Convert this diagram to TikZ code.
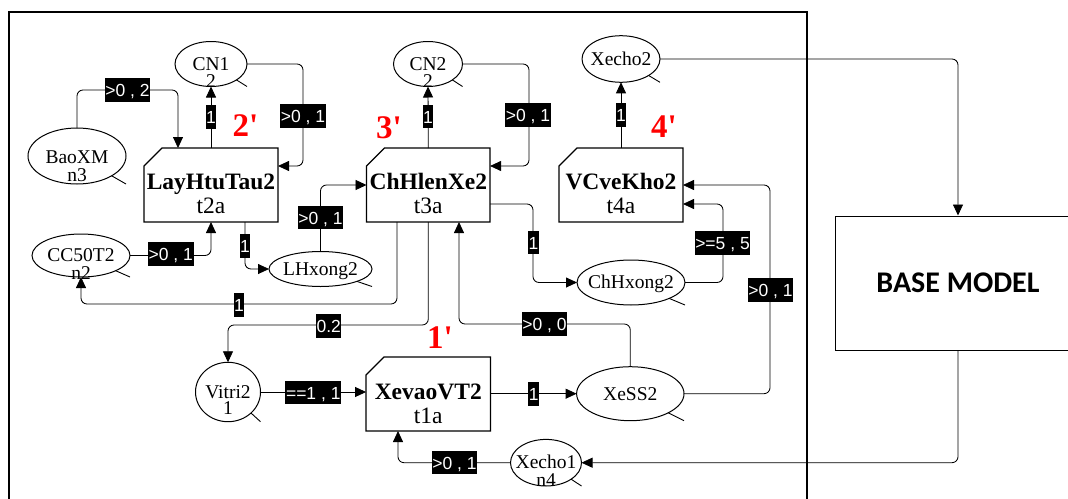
\documentclass[tikz,border=0pt]{standalone}
\usepackage{fontspec}
\setmainfont{Liberation Serif}
\newfontfamily\lbfam{Liberation Sans}
\newfontfamily\bmfam{Carlito}
\newfontfamily\rdfam{Liberation Serif}[Ligatures=TeXOff]
\usetikzlibrary{shapes.geometric,arrows.meta,calc}
\newcommand\plfont{\fontsize{19.5pt}{22pt}\selectfont}
\newcommand\trfont{\fontsize{23.5pt}{26pt}\selectfont\bfseries}
\newcommand\idfont{\fontsize{23.5pt}{26pt}\selectfont}
\newcommand\lbfont{\lbfam\fontsize{17.5pt}{20pt}\selectfont}
\newcommand\rdfont{\rdfam\fontsize{33pt}{36pt}\selectfont\bfseries}
\newcommand\bmfont{\bmfam\fontsize{30pt}{34pt}\selectfont\bfseries}
\newcommand\chamf[1]{\draw[line width=1.3pt] ([yshift=-18pt]#1.north west) -- ([xshift=18pt]#1.north west) -- (#1.north east) -- (#1.south east) -- (#1.south west) -- cycle;}
\newcommand\ptick[1]{\draw[line width=0.9pt] (#1.south -| #1.east) -- ($(#1.center)!0.7071!(#1.south -| #1.east)$);}
\tikzset{
  place/.style={ellipse, draw, line width=1pt, inner sep=0pt, outer sep=0pt},
  trans/.style={rectangle, draw=none, inner sep=0pt, outer sep=0pt, minimum height=74pt},
  ptxt/.style={font=\plfont, inner sep=0pt, anchor=base},
  tname/.style={font=\trfont, inner sep=0pt, anchor=base},
  tid/.style={font=\idfont, inner sep=0pt, anchor=base},
  conn/.style={line width=0.85pt, rounded corners=6pt, -{Triangle[length=11pt,width=10pt]}},
  lbl/.style={fill=black, text=white, font=\lbfont, inner xsep=0.6pt, inner ysep=0pt, text height=18.5pt, text depth=5pt},
  redlbl/.style={text=red, font=\rdfont, inner sep=0pt, anchor=base},
}
\begin{document}
\begin{tikzpicture}[x=1pt,y=-1pt]
\clip (0,0) rectangle (1068,498);
\fill[white] (0,0) rectangle (1068,498);
\draw[line width=1.3pt] (9,12) rectangle (807,510);

% transitions
\node[trans, minimum width=134pt] (t2) at (211,185) {};
\node[trans, minimum width=123.5pt] (t3) at (428.3,185) {};
\node[trans, minimum width=124pt] (t4) at (621,185) {};
\node[trans, minimum width=124.5pt] (t1) at (428.3,394) {};
\chamf{t2}\chamf{t3}\chamf{t4}\chamf{t1}
\node[tname] (t2n) at ([yshift=-41pt]t2.north) {LayHtuTau2};
\node[tid] (t2i) at ([yshift=-65.5pt]t2.north) {t2a};
\node[tname] (t3n) at ([yshift=-41pt]t3.north) {ChHlenXe2};
\node[tid] (t3i) at ([yshift=-65.5pt]t3.north) {t3a};
\node[tname] (t4n) at ([yshift=-41pt]t4.north) {VCveKho2};
\node[tid] (t4i) at ([yshift=-65.5pt]t4.north) {t4a};
\node[tname] (t1n) at ([yshift=-42pt]t1.north) {XevaoVT2};
\node[tid] (t1i) at ([yshift=-66pt]t1.north) {t1a};

% places
\node[place, minimum width=72pt, minimum height=45pt] (cn1) at (211,64) {};
\node[place, minimum width=69pt, minimum height=45pt] (cn2) at (428,64) {};
\node[place, minimum width=78pt, minimum height=46.6pt] (xe2) at (621,59) {};
\node[place, minimum width=98pt, minimum height=56pt] (baoxm) at (77,156) {};
\node[place, minimum width=98pt, minimum height=43pt] (cc50) at (81,255.5) {};
\node[place, minimum width=103pt, minimum height=35pt] (lhx) at (320.5,269) {};
\node[place, minimum width=108pt, minimum height=45pt] (chx) at (631,282.5) {};
\node[place, minimum width=107.4pt, minimum height=54pt] (xess) at (630.3,393.7) {};
\node[place, minimum width=65pt, minimum height=59.4pt] (vitri) at (228,392) {};
\node[place, minimum width=71pt, minimum height=46.6pt] (xe1) at (546,462.7) {};
\ptick{cn1}\ptick{cn2}\ptick{xe2}\ptick{baoxm}\ptick{cc50}\ptick{lhx}\ptick{chx}\ptick{xess}\ptick{vitri}\ptick{xe1}

\node[ptxt] (cn1a) at ([yshift=-6.5pt]cn1.center) {CN1};
\node[ptxt] (cn1b) at ([yshift=-23pt]cn1.center) {2};
\node[ptxt] (cn2a) at ([yshift=-6.5pt]cn2.center) {CN2};
\node[ptxt] (cn2b) at ([yshift=-23pt]cn2.center) {2};
\node[ptxt] (xe2a) at ([yshift=-6.5pt]xe2.center) {Xecho2};
\node[ptxt] (baoa) at ([yshift=-7pt]baoxm.center) {BaoXM};
\node[ptxt] (baob) at ([yshift=-25.5pt]baoxm.center) {n3};
\node[ptxt] (cc5a) at ([yshift=-5.5pt]cc50.center) {CC50T2};
\node[ptxt] (cc5b) at ([yshift=-23.5pt]cc50.center) {n2};
\node[ptxt] (lhxa) at ([yshift=-6.5pt]lhx.center) {LHxong2};
\node[ptxt] (chxa) at ([yshift=-5.5pt]chx.center) {ChHxong2};
\node[ptxt] (xssa) at ([yshift=-6.3pt]xess.center) {XeSS2};
\node[ptxt] (vita) at ([yshift=-6.3pt]vitri.center) {Vitri2};
\node[ptxt] (vitb) at ([yshift=-22pt]vitri.center) {1};
\node[ptxt] (xe1a) at ([yshift=-5.6pt]xe1.center) {Xecho1};
\node[ptxt] (xe1b) at ([yshift=-23.3pt]xe1.center) {n4};

% base model
\node[draw, line width=1pt, minimum width=246pt, minimum height=134pt, inner sep=0pt, font=\bmfont] (base) at (958,283) {BASE MODEL};

% red labels
\node[redlbl] (r2) at (245.5,136.5) {2'};
\node[redlbl] (r3) at (389,138) {3'};
\node[redlbl] (r4) at (664,137.5) {4'};
\node[redlbl] (r1) at (440,348) {1'};

% connectors
\coordinate (b1) at (178,90);
\draw[conn] (baoxm.north) |- (b1) -- (t2.north -| b1);
\draw[conn] (t2.north) -- (cn1.south);
\coordinate (b3) at (303,166);
\draw[conn] (cn1.east) -| (b3) -- (t2.east |- b3);
\draw[conn] (cc50.east) -| (t2.south);
\coordinate (b5) at (245,269);
\draw[conn] (t2.south -| b5) |- (lhx.west);
\draw[conn] (lhx.north) |- (t3.west);
\coordinate (b7) at (397,304);
\draw[conn] (t3.south -| b7) -- (b7) -| (cc50.south);
\coordinate (b8) at (428.3,325);
\draw[conn] (t3.south) -- (b8) -| (vitri.north);
\coordinate (b9) at (459,324);
\draw[conn] (xess.north) |- (b9) -- (t3.south -| b9);
\draw[conn] (t3.north) -- (cn2.south);
\coordinate (b11) at (529,166);
\draw[conn] (cn2.east) -| (b11) -- (t3.east |- b11);
\coordinate (b12) at (533,204);
\draw[conn] (t3.east |- b12) -- (b12) |- (chx.west);
\coordinate (b13) at (723,204);
\draw[conn] (chx.east) -| (b13) -- (t4.east |- b13);
\coordinate (b14) at (770,185);
\draw[conn] (xess.east) -| (b14) -- (t4.east);
\draw[conn] (t4.north) -- (xe2.south);
\draw[conn] (vitri.east) -- (t1.west |- vitri.east);
\draw[conn] (t1.east |- xess.west) -- (xess.west);
\coordinate (b18) at (398,462.7);
\draw[conn] (xe1.west) -| (t1.south -| b18);
\draw[conn] (xe2.east) -| (base.north);
\draw[conn] (base.south) |- (xe1.east);

% arc labels
\node[lbl] (l1) at (127.5,90) {>0 , 2};
\node[lbl] (l2) at (211,117) {1};
\node[lbl] (l3) at (303,116) {>0 , 1};
\node[lbl] (l4) at (170.8,254) {>0 , 1};
\node[lbl] (l5) at (245,246) {1};
\node[lbl] (l6) at (320.5,217.5) {>0 , 1};
\node[lbl] (l7) at (239,305) {1};
\node[lbl] (l8) at (328.7,326) {0.2};
\node[lbl] (l9) at (544.5,324) {>0 , 0};
\node[lbl] (l10) at (428,116.7) {1};
\node[lbl] (l11) at (528,115) {>0 , 1};
\node[lbl] (l12) at (533.5,242.5) {1};
\node[lbl] (l13) at (722.5,243) {>=5 , 5};
\node[lbl] (l14) at (770.5,290) {>0 , 1};
\node[lbl] (l15) at (621,115) {1};
\node[lbl] (l16) at (313.3,392.5) {==1 , 1};
\node[lbl] (l17) at (533.7,394) {1};
\node[lbl] (l18) at (454.5,462.7) {>0 , 1};
\end{tikzpicture}
\end{document}
